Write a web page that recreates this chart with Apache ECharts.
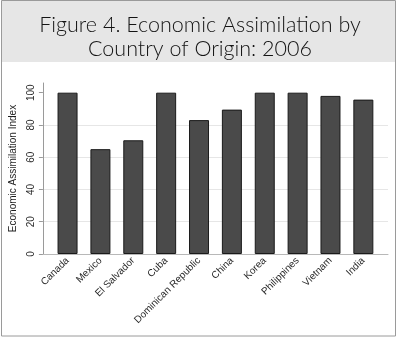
<!DOCTYPE html>
<html>
<head>
<meta charset="utf-8">
<script src="https://cdn.jsdelivr.net/npm/echarts@6/dist/echarts.min.js"></script>
<style>
  html, body { margin: 0; padding: 0; background: #ffffff; }
  #chart { width: 400px; height: 339px; }
</style>
</head>
<body>
<div id="chart"></div>
<script>
// Country of origin (x categories)
const countries = ['Canada', 'Mexico', 'El Salvador', 'Cuba', 'Dominican Republic',
                   'China', 'Korea', 'Philippines', 'Vietnam', 'India'];
// Economic assimilation index, 2006
const indexValues = [100, 65, 70.5, 100, 83, 89.5, 100, 100, 98, 95.7];
// Y tick labels
const yTicks = [0, 20, 40, 60, 80, 100];

const chart = echarts.init(document.getElementById('chart'), null, { renderer: 'canvas' });

const positions = countries.map((_, i) => i);

chart.setOption({
  animation: false,
  backgroundColor: '#ffffff',
  graphic: [
    { type: 'rect', z: -10, silent: true,
      shape: { x: 1, y: 1, width: 394, height: 61 },
      style: { fill: '#e6e6e6' } },
    { type: 'rect', z: -9, silent: true,
      shape: { x: 1.5, y: 0.5, width: 394, height: 335.5 },
      style: { fill: 'none', stroke: '#9a9a9a', lineWidth: 1 } }
  ],
  title: {
    text: 'Figure 4. Economic Assimilation by\nCountry of Origin: 2006',
    left: 'center',
    top: 8,
    textStyle: {
      fontFamily: 'Lato',
      fontWeight: 300,
      fontSize: 21.5,
      lineHeight: 24,
      color: '#141414'
    }
  },
  grid: { left: 38, right: 12, top: 83, bottom: 85, containLabel: false },
  xAxis: {
    type: 'value',
    min: -0.75,
    max: 9.75,
    axisLine: { show: true, onZero: false, lineStyle: { color: '#b8b8b8', width: 1 } },
    axisTick: { show: false },
    splitLine: { show: false },
    axisLabel: {
      customValues: positions,
      formatter: v => countries[Math.round(v)],
      rotate: 45,
      margin: 5,
      fontFamily: 'Liberation Sans',
      fontSize: 10,
      color: '#2a2a2a'
    }
  },
  yAxis: {
    type: 'value',
    min: 0,
    max: 106,
    interval: 20,
    name: 'Economic Assimilation Index',
    nameLocation: 'middle',
    nameGap: 21,
    nameTextStyle: { fontFamily: 'Liberation Sans', fontSize: 10, color: '#1e1e1e' },
    axisLine: { show: true, onZero: false, lineStyle: { color: '#9a9a9a', width: 1 } },
    axisTick: { show: true, customValues: yTicks, length: 4, lineStyle: { color: '#9a9a9a' } },
    splitLine: { show: true, showMinLine: false, showMaxLine: false,
                 lineStyle: { color: '#e6e6e6', width: 1 } },
    axisLabel: {
      customValues: yTicks,
      rotate: 90,
      margin: 7,
      fontFamily: 'Liberation Sans',
      fontSize: 10,
      color: '#2a2a2a'
    }
  },
  series: [{
    type: 'bar',
    barWidth: 20,
    data: indexValues.map((v, i) => [positions[i], v]),
    itemStyle: { color: '#4a4a4a', borderColor: '#1a1a1a', borderWidth: 1 }
  }]
});
</script>
</body>
</html>
